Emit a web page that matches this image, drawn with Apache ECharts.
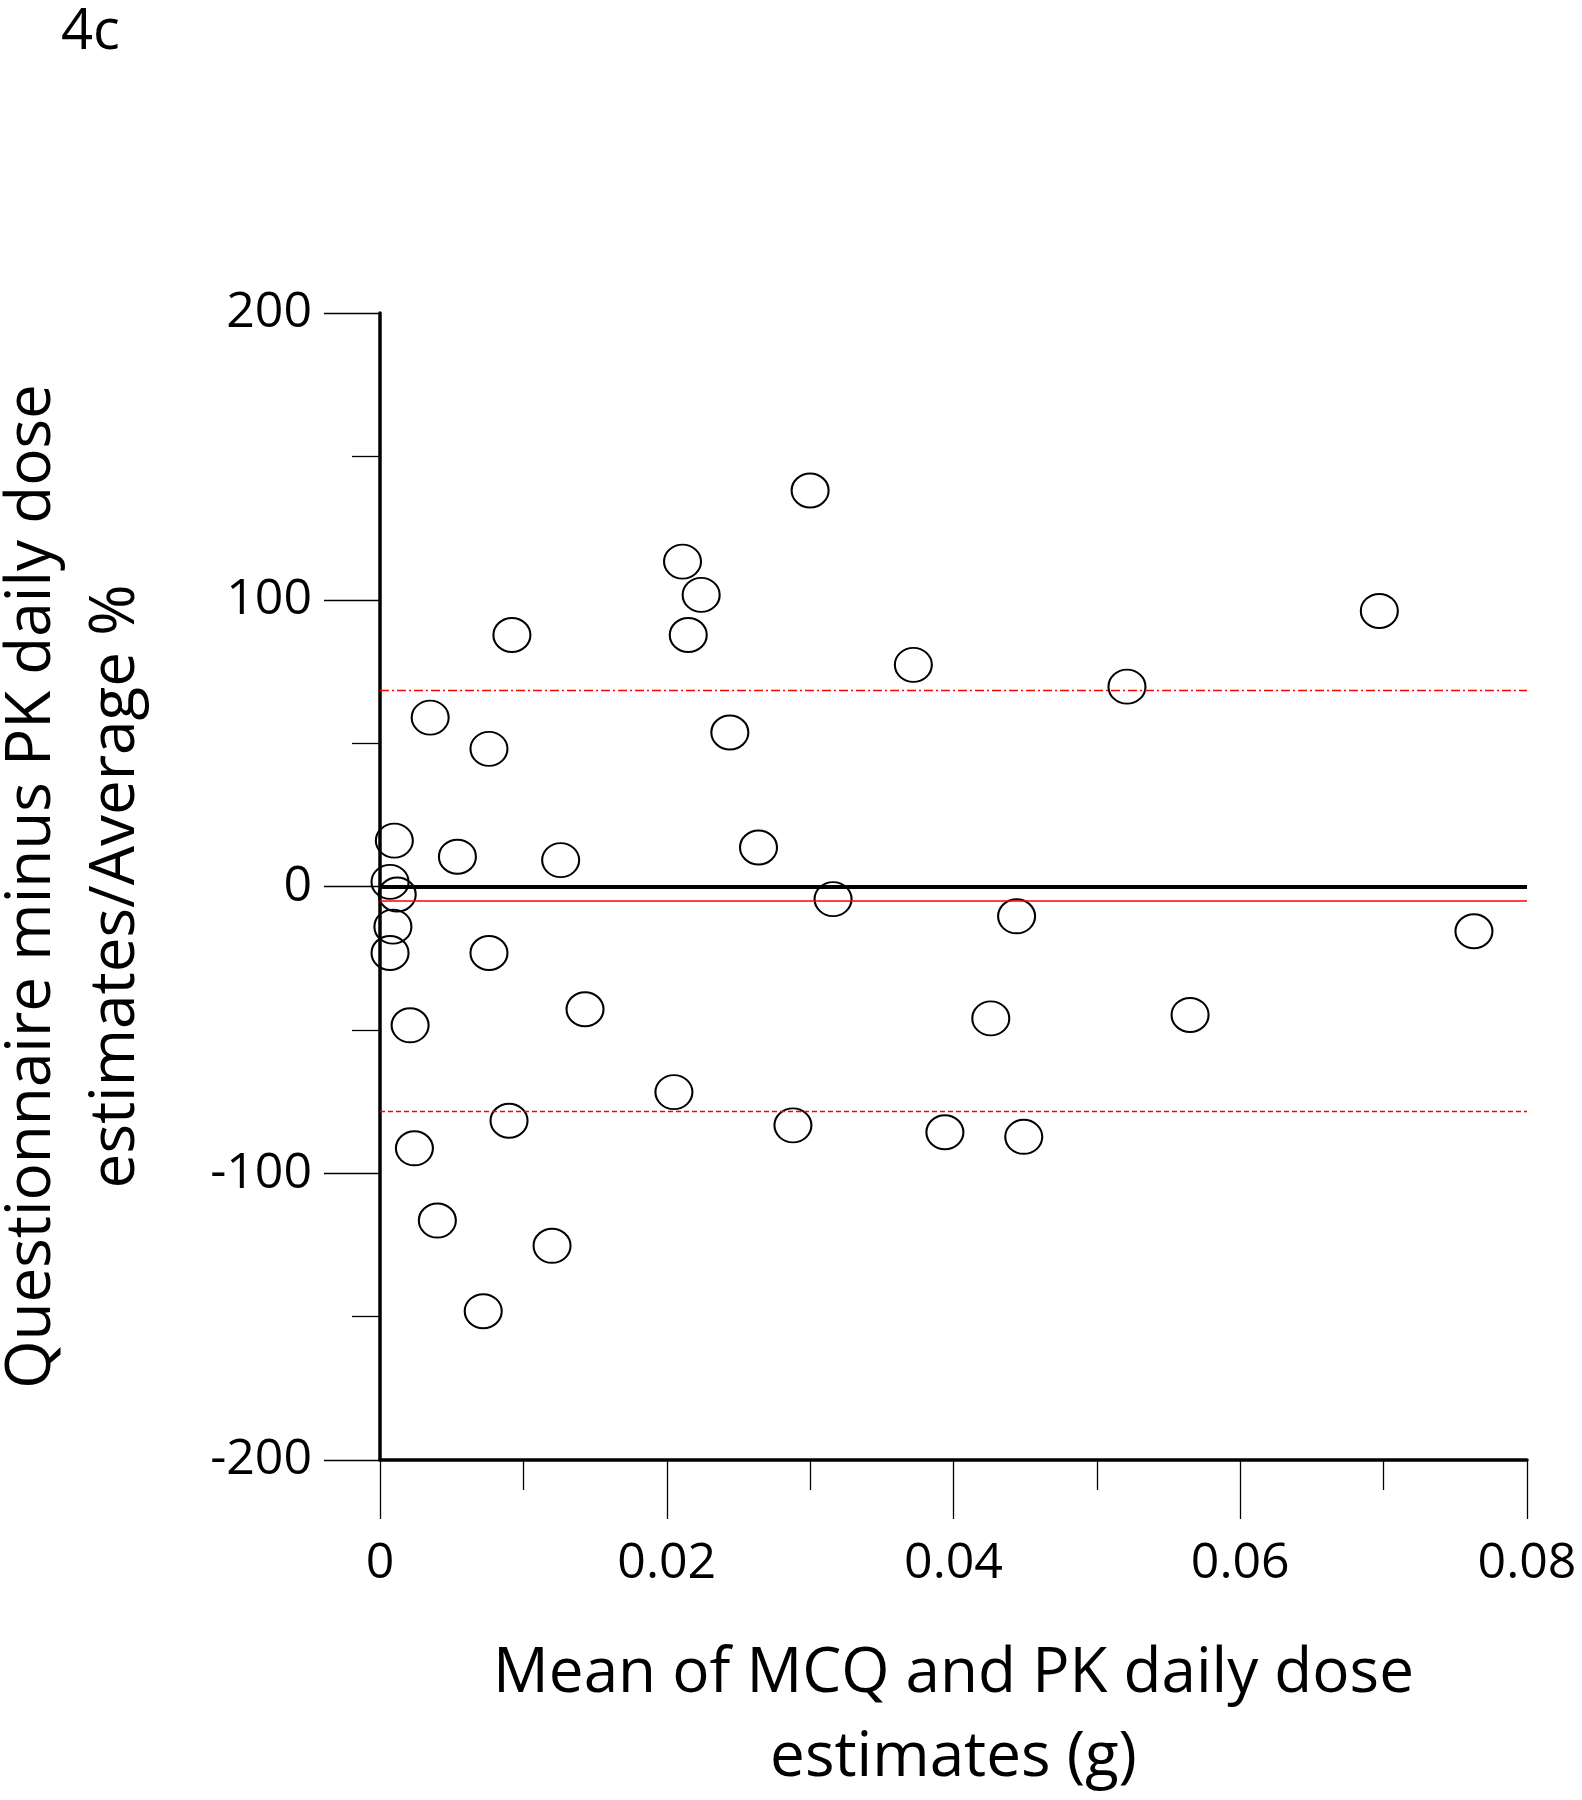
<!DOCTYPE html>
<html>
<head>
<meta charset="utf-8">
<script src="https://cdn.jsdelivr.net/npm/echarts@6/dist/echarts.min.js"></script>
<style>
html,body{margin:0;padding:0;background:#fff;}
#chart{width:1582px;height:1800px;}
</style>
</head>
<body>
<div id="chart"></div>
<script>
const meanDose = [0.0300,0.0211,0.0224,0.0215,0.0092,0.0697,0.0372,0.0521,0.0035,0.0244,0.0076,0.0010,0.0264,0.0054,0.0126,0.0007,0.0012,0.0316,0.0009,0.0444,0.0763,0.0007,0.0076,0.0143,0.0021,0.0426,0.0565,0.0205,0.0090,0.0288,0.0394,0.0449,0.0024,0.0040,0.0120,0.0072];
const pctDiff = [138.1,113.3,101.7,87.7,87.7,96.1,77.3,69.7,58.9,53.7,48.0,16.0,13.6,10.4,9.2,1.6,-2.8,-4.4,-14.0,-10.4,-15.6,-23.2,-23.2,-42.8,-48.4,-46.0,-44.8,-71.7,-81.7,-83.3,-85.7,-87.3,-91.3,-116.5,-125.3,-148.1];
const meanBias = -5.1;
const upperLimit = 68.3;
const lowerLimit = -78.5;
const xTicks = [0, 0.02, 0.04, 0.06, 0.08];
const yTicks = [-200, -100, 0, 100, 200];

const FONT = '"Open Sans", "Noto Sans", sans-serif';
const points = meanDose.map((x, i) => [x, pctDiff[i]]);

const chart = echarts.init(document.getElementById('chart'), null, {renderer: 'canvas'});
chart.setOption({
  animation: false,
  backgroundColor: '#fff',
  title: {
    text: '4c', left: 56, top: 0,
    textStyle: {fontFamily: FONT, fontSize: 56, fontWeight: 'normal', color: '#000'}
  },
  grid: {left: 380, right: 55, top: 313, bottom: 340, containLabel: false, outerBoundsMode: 'none'},
  xAxis: {
    type: 'value', min: xTicks[0], max: xTicks[xTicks.length - 1], interval: 0.02,
    splitLine: {show: false},
    axisLine: {show: true, onZero: false, lineStyle: {color: '#000', width: 3.5}},
    axisTick: {show: true, inside: false, length: 59, lineStyle: {color: '#000', width: 1.3}},
    minorTick: {show: true, splitNumber: 2, length: 30, lineStyle: {color: '#000', width: 1.3}},
    axisLabel: {margin: 79, fontFamily: FONT, fontSize: 50, color: '#000',
      formatter: v => (v === 0 ? '0' : String(+v.toFixed(2)))},
    name: 'Mean of MCQ and PK daily dose\nestimates (g)',
    nameLocation: 'middle', nameGap: 172,
    nameTextStyle: {fontFamily: FONT, fontSize: 62, color: '#000', lineHeight: 84}
  },
  yAxis: {
    type: 'value', min: yTicks[0], max: yTicks[yTicks.length - 1], interval: 100,
    splitLine: {show: false},
    axisLine: {show: true, onZero: false, lineStyle: {color: '#000', width: 3.5}},
    axisTick: {show: true, inside: false, length: 56, lineStyle: {color: '#000', width: 1.3}},
    minorTick: {show: true, splitNumber: 2, length: 28, lineStyle: {color: '#000', width: 1.3}},
    axisLabel: {margin: 68, fontFamily: FONT, fontSize: 50, color: '#000'},
    name: 'Questionnaire minus PK daily dose\nestimates/Average %',
    nameLocation: 'middle', nameGap: 222, nameRotate: 90,
    nameTextStyle: {fontFamily: FONT, fontSize: 62, color: '#000', lineHeight: 84}
  },
  series: [{
    type: 'scatter',
    data: points,
    clip: false,
    symbol: 'circle',
    symbolSize: [37, 34],
    itemStyle: {color: 'rgba(255,255,255,0)', borderColor: '#000', borderWidth: 2, opacity: 1},
    markLine: {
      silent: true, symbol: ['none', 'none'], label: {show: false},
      data: [
        {yAxis: 0, lineStyle: {color: '#000', width: 4, type: 'solid'}},
        {yAxis: meanBias, lineStyle: {color: '#ff0000', width: 1.5, type: 'solid'}},
        {yAxis: upperLimit, lineStyle: {color: '#ff0000', width: 1.3, type: [9, 3, 2, 3]}},
        {yAxis: lowerLimit, lineStyle: {color: '#ff0000', width: 1.3, type: [5, 3]}}
      ]
    }
  }]
});
</script>
</body>
</html>
